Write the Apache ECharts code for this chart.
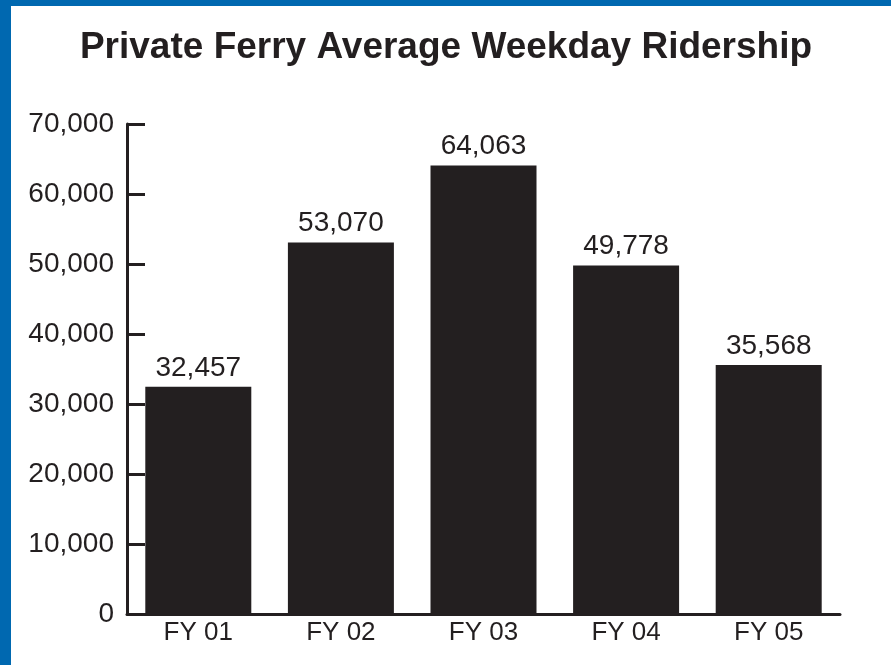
<!DOCTYPE html>
<html>
<head>
<meta charset="utf-8">
<script src="https://cdn.jsdelivr.net/npm/echarts@6/dist/echarts.min.js"></script>
<style>
html,body{margin:0;padding:0;background:#fff;}
#chart{width:891px;height:665px;}
</style>
</head>
<body>
<div id="chart"></div>
<script>
var titleText = 'Private Ferry Average Weekday Ridership';
var categories = ['FY 01', 'FY 02', 'FY 03', 'FY 04', 'FY 05'];
var ridership = [32457, 53070, 64063, 49778, 35568];
var yMin = 0, yMax = 70000, yStep = 10000;

var ink = '#231f20';
var chart = echarts.init(document.getElementById('chart'), null, {renderer: 'canvas'});
chart.setOption({
  backgroundColor: '#ffffff',
  animation: false,
  title: {
    text: titleText,
    left: 441,
    textAlign: 'center',
    top: 24,
    textStyle: {
      fontFamily: "'Liberation Sans', Arial, sans-serif",
      fontWeight: 'bold',
      fontSize: 37,
      color: ink
    }
  },
  graphic: [
    {type: 'rect', left: 0, top: 0, shape: {width: 11, height: 665}, style: {fill: '#0068b0'}, z: 100},
    {type: 'rect', left: 0, top: 0, shape: {width: 891, height: 6}, style: {fill: '#0068b0'}, z: 100}
  ],
  grid: {left: 127, right: 51, top: 124, bottom: 51, containLabel: false},
  xAxis: {
    type: 'category',
    data: categories,
    axisLine: {show: true, lineStyle: {color: ink, width: 3}},
    axisTick: {show: false},
    axisLabel: {
      color: ink, fontSize: 26, margin: 6,
      fontFamily: "'Liberation Sans', Arial, sans-serif"
    }
  },
  yAxis: {
    type: 'value',
    min: yMin, max: yMax, interval: yStep,
    axisLine: {show: true, lineStyle: {color: ink, width: 3}},
    axisTick: {show: true, inside: true, length: 18, lineStyle: {color: ink, width: 3}},
    splitLine: {show: false},
    axisLabel: {
      color: ink, fontSize: 28, margin: 13,
      fontFamily: "'Liberation Sans', Arial, sans-serif",
      formatter: function (v) { return v.toLocaleString('en-US'); }
    }
  },
  series: [{
    type: 'bar',
    data: ridership,
    barWidth: 106,
    itemStyle: {color: ink},
    label: {
      show: true, position: 'top', distance: 5,
      color: ink, fontSize: 28,
      fontFamily: "'Liberation Sans', Arial, sans-serif",
      formatter: function (p) { return p.value.toLocaleString('en-US'); }
    }
  }]
});
</script>
</body>
</html>
